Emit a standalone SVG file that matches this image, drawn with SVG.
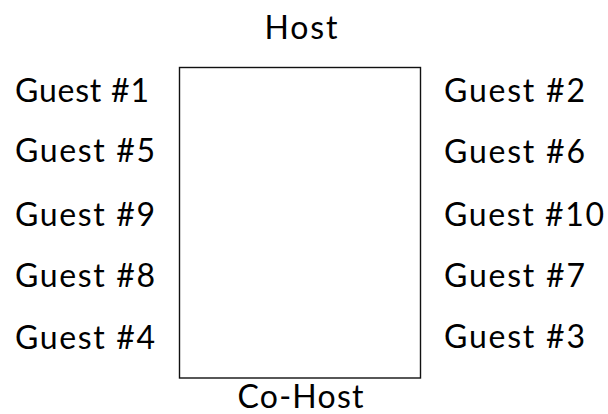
<svg xmlns="http://www.w3.org/2000/svg" width="608" height="414" viewBox="0 0 608 414">
<style>
.t{font-family:Lato,"Open Sans","DejaVu Sans",sans-serif;font-size:32px;fill:#000}
.l{text-anchor:start}
.m{text-anchor:middle}
.table{fill:#fff;stroke:#111;stroke-width:1.4}
</style>
<rect width="608" height="414" fill="#fff"/>
<g id="table"><rect class="table" x="179.5" y="67.5" width="241" height="310.5"/></g>
<g id="host"><text class="t m" x="301" y="39" textLength="73">Host</text></g>
<g id="cohost"><text class="t m" x="300.5" y="407.5" textLength="126">Co-Host</text></g>
<g id="guest1"><text class="t l" x="15" y="102" textLength="134">Guest #1</text></g>
<g id="guest5"><text class="t l" x="15" y="162" textLength="140">Guest #5</text></g>
<g id="guest9"><text class="t l" x="15" y="226" textLength="140">Guest #9</text></g>
<g id="guest8"><text class="t l" x="15" y="287" textLength="140">Guest #8</text></g>
<g id="guest4"><text class="t l" x="15" y="349" textLength="140">Guest #4</text></g>
<g id="guest2"><text class="t l" x="444" y="102" textLength="141">Guest #2</text></g>
<g id="guest6"><text class="t l" x="444" y="163" textLength="141">Guest #6</text></g>
<g id="guest10"><text class="t l" x="444" y="226" textLength="160">Guest #10</text></g>
<g id="guest7"><text class="t l" x="444" y="287" textLength="141">Guest #7</text></g>
<g id="guest3"><text class="t l" x="444" y="348" textLength="141">Guest #3</text></g>
<g id="connectors"></g>
</svg>
